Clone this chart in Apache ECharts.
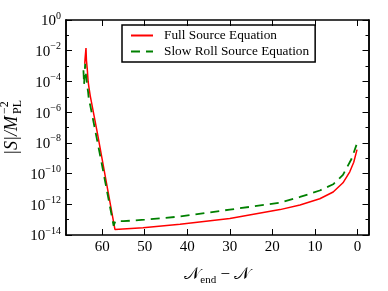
<!DOCTYPE html>
<html><head><meta charset="utf-8">
<script src="https://cdn.jsdelivr.net/npm/echarts@6/dist/echarts.min.js"></script>
<style>html,body{margin:0;padding:0;background:#fff}#c{width:388px;height:291px}</style>
</head><body><div id="c"></div>
<script>
// N_end - N values and |S|/M_PL^-2 values
var fullN = [64.1, 64.0, 63.8, 63.7, 63.5, 63.3, 63.1, 62.8, 61.1, 57.0, 50.4, 41.7, 30, 18.2, 13.5, 8.85, 5.7, 3.4, 1.8, 0.87, 0.1];
var fullS = [1.4e-3, 3.4e-3, 1.5e-2, 2.5e-3, 6.3e-4, 1e-4, 4e-5, 1.15e-5, 4e-8, 2.3e-14, 3e-14, 5e-14, 1.2e-13, 4.5e-13, 9.1e-13, 2.3e-12, 6.3e-12, 2.5e-11, 1.3e-10, 5.5e-10, 3.6e-9];
var slowN = [64.4, 64.25, 64.0, 63.8, 63.5, 63.3, 63.1, 62.8, 60.1, 57.3, 56.9, 55, 50, 41.7, 30, 18.2, 13.5, 8.85, 5.7, 3.4, 1.4, 0.23];
var slowS = [5.4e-4, 6.3e-5, 1.4e-3, 2.6e-4, 4.8e-5, 2e-5, 5.6e-6, 2.8e-6, 4.4e-10, 4e-14, 8e-14, 7.9e-14, 1e-13, 1.6e-13, 4.5e-13, 1.26e-12, 3e-12, 7.9e-12, 2e-11, 8.3e-11, 8.9e-10, 7.4e-9];
var xTicks = [0, 10, 20, 30, 40, 50, 60];
var yMajor = [1e-14, 1e-12, 1e-10, 1e-8, 1e-6, 1e-4, 1e-2, 1];
var yMinor = [1e-13, 1e-11, 1e-9, 1e-7, 1e-5, 1e-3, 1e-1];
var names = ['Full Source Equation', 'Slow Roll Source Equation'];

var FONT = '"Liberation Serif", "DejaVu Serif", serif';
function pair(a, b) { return a.map(function (v, i) { return [v, b[i]]; }); }
function expLabel(v) {
  var e = Math.round(Math.log10(v));
  return '{b|10}{s|' + (e < 0 ? '\u2212' + (-e) : e) + '}';
}
var richY = {
  b: { fontSize: 15, fontFamily: FONT, color: '#000', lineHeight: 18, verticalAlign: 'bottom' },
  s: { fontSize: 10, fontFamily: FONT, color: '#000', lineHeight: 18, verticalAlign: 'top' }
};
function yAx(pos, vals, len, labels) {
  return {
    type: 'log', logBase: 10, min: 1e-14, max: 1, position: pos,
    axisLine: { show: true, onZero: false, lineStyle: { color: '#000', width: 1.5 } },
    axisTick: { show: true, inside: true, length: len, customValues: vals, lineStyle: { color: '#000', width: 1 } },
    axisLabel: labels ? { show: true, customValues: vals, formatter: expLabel, rich: richY, margin: 5 } : { show: false },
    splitLine: { show: false }
  };
}
function xAx(pos, labels) {
  return {
    type: 'value', inverse: true, min: -2.6, max: 68.5, position: pos,
    axisLine: { show: true, onZero: false, lineStyle: { color: '#000', width: 1.5 } },
    axisTick: { show: true, inside: true, length: 6, customValues: xTicks, lineStyle: { color: '#000', width: 1 } },
    axisLabel: labels ? { show: true, customValues: xTicks, fontFamily: FONT, fontSize: 15, color: '#000', margin: 5 } : { show: false },
    splitLine: { show: false },
    name: labels ? '{n|\uD835\uDCA9}{sub|end}{n| \u2212 \uD835\uDCA9}' : '',
    nameLocation: 'middle', nameGap: 29,
    nameTextStyle: { rich: {
      n: { fontSize: 17, fontFamily: FONT, color: '#000', lineHeight: 22, verticalAlign: 'middle' },
      sub: { fontSize: 11, fontFamily: FONT, color: '#000', lineHeight: 22, verticalAlign: 'bottom' }
    } }
  };
}
var chart = echarts.init(document.getElementById('c'), null, { renderer: 'canvas' });
chart.setOption({
  animation: false,
  backgroundColor: '#fff',
  grid: { left: 66, right: 19.5, top: 20, bottom: 44, containLabel: false },
  legend: {
    orient: 'vertical', left: 122, top: 25,
    data: names,
    borderColor: '#000', borderWidth: 1.5, borderRadius: 0,
    padding: [4, 6, 4, 8], itemGap: 3, itemWidth: 22, itemHeight: 12,
    itemStyle: { opacity: 0 },
    textStyle: { fontFamily: FONT, fontSize: 13.3, color: '#000', padding: [0, 0, 0, 6] }
  },
  xAxis: [xAx('bottom', true), xAx('top', false)],
  yAxis: [yAx('left', yMajor, 6, true), yAx('left', yMinor, 3, false), yAx('right', yMajor, 6, false), yAx('right', yMinor, 3, false)],
  graphic: [
    { type: 'text', x: 12.5, y: 116, rotation: Math.PI / 2,
      style: { text: '|S|/M', font: 'italic 18px ' + FONT, fill: '#000', align: 'right', verticalAlign: 'middle' } },
    { type: 'text', x: 5, y: 114, rotation: Math.PI / 2,
      style: { text: '\u22122', font: '12px ' + FONT, fill: '#000', align: 'left', verticalAlign: 'middle' } },
    { type: 'text', x: 17.5, y: 114, rotation: Math.PI / 2,
      style: { text: 'PL', font: '12px ' + FONT, fill: '#000', align: 'left', verticalAlign: 'middle' } }
  ],
  series: [
    { name: names[0], type: 'line', data: pair(fullN, fullS), showSymbol: false, symbol: 'none',
      lineStyle: { color: '#ff0000', width: 1.5 }, itemStyle: { color: '#ff0000' } },
    { name: names[1], type: 'line', data: pair(slowN, slowS), showSymbol: false, symbol: 'none',
      lineStyle: { color: '#008000', width: 1.8, type: [9, 6] }, itemStyle: { color: '#008000' } }
  ]
});
</script></body></html>
